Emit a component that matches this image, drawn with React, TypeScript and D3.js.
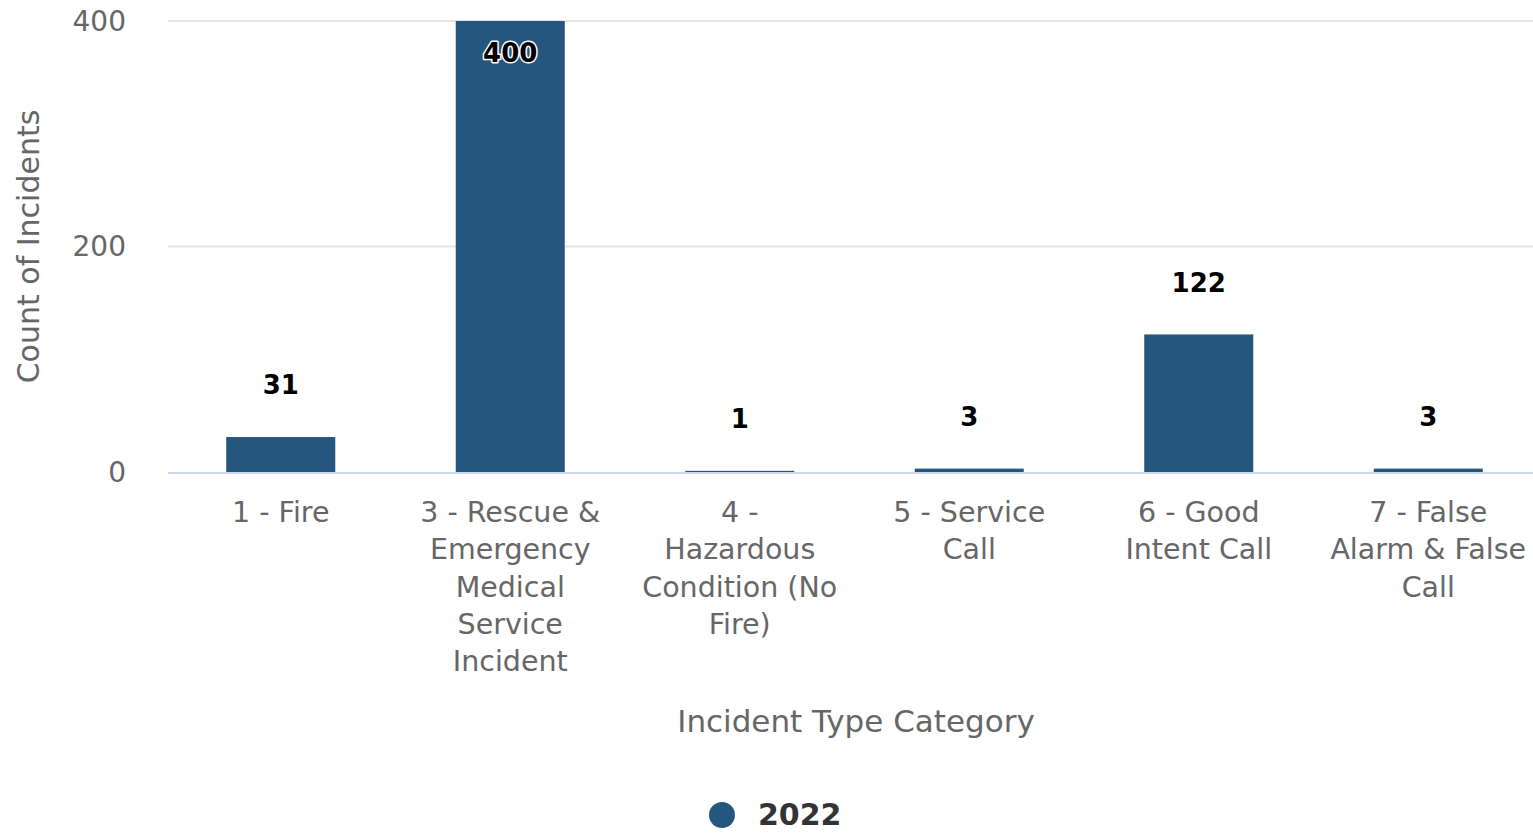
import React from "react";
import * as d3 from "d3";

const categories = [
  "1 - Fire",
  "3 - Rescue & Emergency Medical Service Incident",
  "4 - Hazardous Condition (No Fire)",
  "5 - Service Call",
  "6 - Good Intent Call",
  "7 - False Alarm & False Call",
];
const categoryLines = [
  ["1 - Fire"],
  ["3 - Rescue &", "Emergency", "Medical", "Service", "Incident"],
  ["4 -", "Hazardous", "Condition (No", "Fire)"],
  ["5 - Service", "Call"],
  ["6 - Good", "Intent Call"],
  ["7 - False", "Alarm & False", "Call"],
];
const values2022 = [31, 400, 1, 3, 122, 3];
const yTicks = [0, 200, 400];
const seriesName = "2022";
const xTitle = "Incident Type Category";
const yTitle = "Count of Incidents";

const W = 1533;
const H = 833;
const FONT = "'DejaVu Sans', Verdana, sans-serif";
const BAR = "#24567f";

export default function App() {
  const left = 166;
  const right = 1543;
  const gridRight = 1533;
  const top = 21;
  const bottom = 472;
  const x = d3.scaleBand<string>().domain(categories).range([left, right]).paddingInner(0.525).paddingOuter(0.2625);
  const y = d3.scaleLinear().domain([0, 400]).range([bottom, top]);
  const bw = x.bandwidth();

  return (
    <svg width={W} height={H} style={{ position: "absolute", left: 0, top: 0, background: "#fff" }} fontFamily={FONT}>
      {yTicks.filter((t) => t !== 0).map((t) => (
        <line key={t} x1={168} x2={gridRight} y1={y(t)} y2={y(t)} stroke="#e6e6e6" strokeWidth={2} />
      ))}
      {yTicks.map((t) => (
        <text key={"l" + t} x={126} y={y(t)} dy="0.35em" textAnchor="end" fontSize={28} fill="#666">
          {t}
        </text>
      ))}
      <text
        transform={`translate(28,${(top + bottom) / 2}) rotate(-90)`}
        textAnchor="middle"
        dy="0.35em"
        fontSize={30}
        fill="#666"
      >
        {yTitle}
      </text>
      {categories.map((c, i) => {
        const v = values2022[i];
        const bx = x(c)!;
        const yt = y(v);
        return <rect key={c} x={bx} y={yt} width={bw} height={bottom - yt} fill={BAR} />;
      })}
      <line x1={168} x2={gridRight} y1={bottom + 1} y2={bottom + 1} stroke="#ccd6eb" strokeWidth={2} />
      {categories.map((c, i) => {
        const v = values2022[i];
        const cx = x(c)! + bw / 2;
        const yt = y(v);
        const inside = yt - 52 < top;
        const ly = inside ? yt + 32 : yt - 52;
        return (
          <g key={c}>
            <text
              x={cx}
              y={ly}
              dy="0.35em"
              textAnchor="middle"
              fontSize={26}
              fontWeight="bold"
              fill="#000"
              stroke="#fff"
              strokeWidth={3}
              paintOrder="stroke"
              strokeLinejoin="round"
            >
              {v}
            </text>
            {categoryLines[i].map((ln, j) => (
              <text key={j} x={cx} y={512 + j * 37.3} dy="0.35em" textAnchor="middle" fontSize={28.5} fill="#666">
                {ln}
              </text>
            ))}
          </g>
        );
      })}
      <text x={856} y={721} dy="0.35em" textAnchor="middle" fontSize={31} fill="#666">
        {xTitle}
      </text>
      <circle cx={722} cy={815} r={13} fill={BAR} />
      <text x={758} y={814} dy="0.35em" fontSize={30} fontWeight="bold" fill="#333">
        {seriesName}
      </text>
    </svg>
  );
}
